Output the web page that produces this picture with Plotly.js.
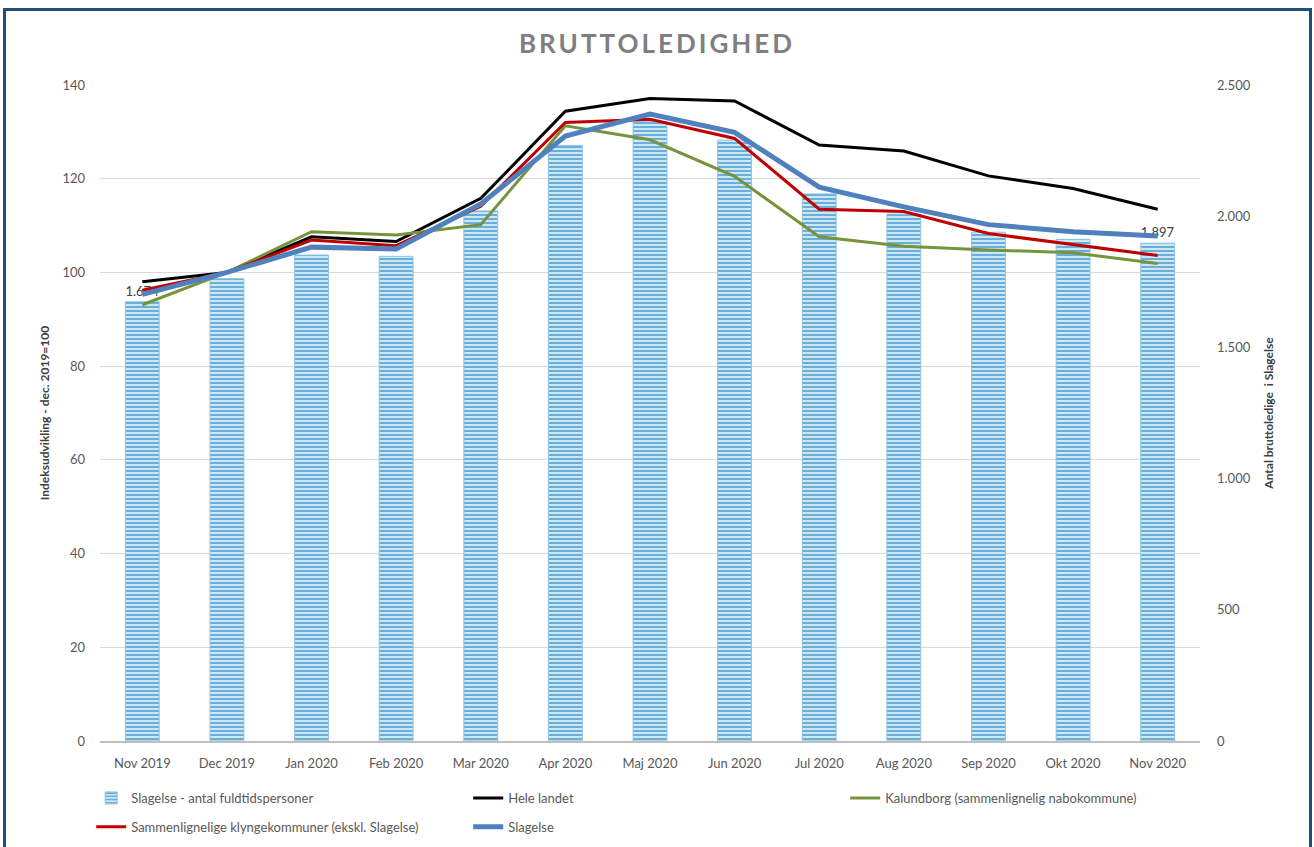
<!DOCTYPE html>
<html>
<head>
<meta charset="utf-8">
<script src="https://cdn.plot.ly/plotly-3.0.1.min.js"></script>
<style>
  html, body { margin: 0; padding: 0; background: #ffffff; }
  #chart { position: absolute; left: 0; top: 0; width: 1314px; height: 847px; }
  #frame { position: absolute; left: 3px; top: 8px; width: 1303px; height: 850px;
           border: 3px solid #1f4e79; pointer-events: none; }
</style>
</head>
<body>
<div id="chart"></div>
<div id="frame"></div>
<script>
const months = ["Nov 2019","Dec 2019","Jan 2020","Feb 2020","Mar 2020","Apr 2020","Maj 2020",
                "Jun 2020","Jul 2020","Aug 2020","Sep 2020","Okt 2020","Nov 2020"];
// Slagelse - antal fuldtidspersoner (right axis)
const slagelseCount = [1674, 1762, 1852, 1847, 2020, 2270, 2360, 2290, 2085, 2008, 1939, 1912, 1897];
// Index series (left axis, dec. 2019 = 100)
const heleLandet   = [98.0, 100, 107.6, 106.6, 115.8, 134.4, 137.1, 136.6, 127.2, 125.9, 120.6, 117.9, 113.5];
const kalundborg   = [93.1, 100, 108.7, 108.0, 110.2, 131.3, 128.3, 120.5, 107.6, 105.6, 104.8, 104.2, 101.9];
const klynge       = [96.2, 100, 106.9, 105.7, 114.1, 132.0, 132.7, 128.6, 113.5, 113.0, 108.3, 105.9, 103.6];
const slagelseIdx  = [95.3, 100, 105.4, 105.0, 114.6, 129.1, 133.8, 129.9, 118.2, 114.0, 110.2, 108.7, 107.8];

const barLabels = slagelseCount.map((v, i) =>
  (i === 0 || i === slagelseCount.length - 1) ? v.toLocaleString('da-DK') : '');

const FONT = 'Lato, "Open Sans", sans-serif';

const traces = [
  {
    type: 'bar', x: months, y: slagelseCount, yaxis: 'y',
    name: 'Slagelse - antal fuldtidspersoner', legend: 'legend',
    width: 0.40,
    text: barLabels, textposition: 'outside', cliponaxis: false,
    textfont: {family: FONT, size: 13, color: '#404040'},
    marker: {
      color: '#bfe0f0',
      line: {color: '#8ec3e2', width: 1},
      pattern: {shape: '-', fgcolor: '#5fa9d6', bgcolor: '#cde8f5', size: 4, solidity: 0.45}
    },
    hoverinfo: 'x+y'
  },
  {type: 'scatter', mode: 'lines', x: months, y: heleLandet, yaxis: 'y2',
   name: 'Hele landet', legend: 'legend', line: {color: '#000000', width: 3}},
  {type: 'scatter', mode: 'lines', x: months, y: kalundborg, yaxis: 'y2',
   name: 'Kalundborg (sammenlignelig nabokommune)', legend: 'legend', line: {color: '#77933c', width: 3}},
  {type: 'scatter', mode: 'lines', x: months, y: klynge, yaxis: 'y2',
   name: 'Sammenlignelige klyngekommuner (ekskl. Slagelse)', legend: 'legend2', line: {color: '#c00000', width: 3}},
  {type: 'scatter', mode: 'lines', x: months, y: slagelseIdx, yaxis: 'y2',
   name: 'Slagelse', legend: 'legend2', line: {color: '#4f81bd', width: 5}}
];

const legendCommon = {
  orientation: 'h', x: -0.008, xanchor: 'left', yanchor: 'top',
  font: {family: FONT, size: 13, color: '#595959'},
  entrywidth: 332, entrywidthmode: 'pixels',
  bgcolor: 'rgba(0,0,0,0)', traceorder: 'normal'
};

const layout = {
  width: 1314, height: 847,
  paper_bgcolor: '#ffffff', plot_bgcolor: '#ffffff',
  margin: {l: 100, r: 114, t: 85, b: 106, autoexpand: false},
  separators: ',.',
  font: {family: FONT, color: '#595959'},
  title: {
    text: '<span style="letter-spacing:3px"><b>BRUTTOLEDIGHED</b></span>',
    font: {family: FONT, size: 26, color: '#7f7f7f'},
    x: 0.5, xanchor: 'center', xref: 'container',
    y: 0.948, yref: 'container', yanchor: 'middle'
  },
  xaxis: {
    type: 'category', showgrid: false, zeroline: false,
    showline: true, linecolor: '#bfbfbf', linewidth: 1.5,
    ticks: '', ticklabelstandoff: 10,
    tickfont: {family: FONT, size: 13, color: '#595959'}
  },
  yaxis: {
    side: 'right', range: [0, 2500], dtick: 500, tickformat: ',d',
    showgrid: false, zeroline: false, showline: false, ticks: '',
    ticklabelstandoff: 16,
    tickfont: {family: FONT, size: 13, color: '#595959'},
    title: {text: '<b>Antal bruttoledige  i Slagelse</b>',
            font: {family: FONT, size: 12, color: '#404040'}, standoff: 14}
  },
  yaxis2: {
    overlaying: 'y', side: 'left', range: [0, 140], dtick: 20,
    showgrid: true, gridcolor: '#d9d9d9', gridwidth: 1,
    zeroline: false, showline: false, ticks: '',
    ticklabelstandoff: 14,
    tickfont: {family: FONT, size: 13, color: '#595959'},
    title: {text: '<b>Indeksudvikling - dec. 2019=100</b>',
            font: {family: FONT, size: 12, color: '#404040'}, standoff: 10}
  },
  legend: Object.assign({}, legendCommon, {y: -0.064}),
  legend2: Object.assign({}, legendCommon, {y: -0.108}),
  showlegend: true
};

Plotly.newPlot('chart', traces, layout, {displayModeBar: false, staticPlot: true});
</script>
</body>
</html>
